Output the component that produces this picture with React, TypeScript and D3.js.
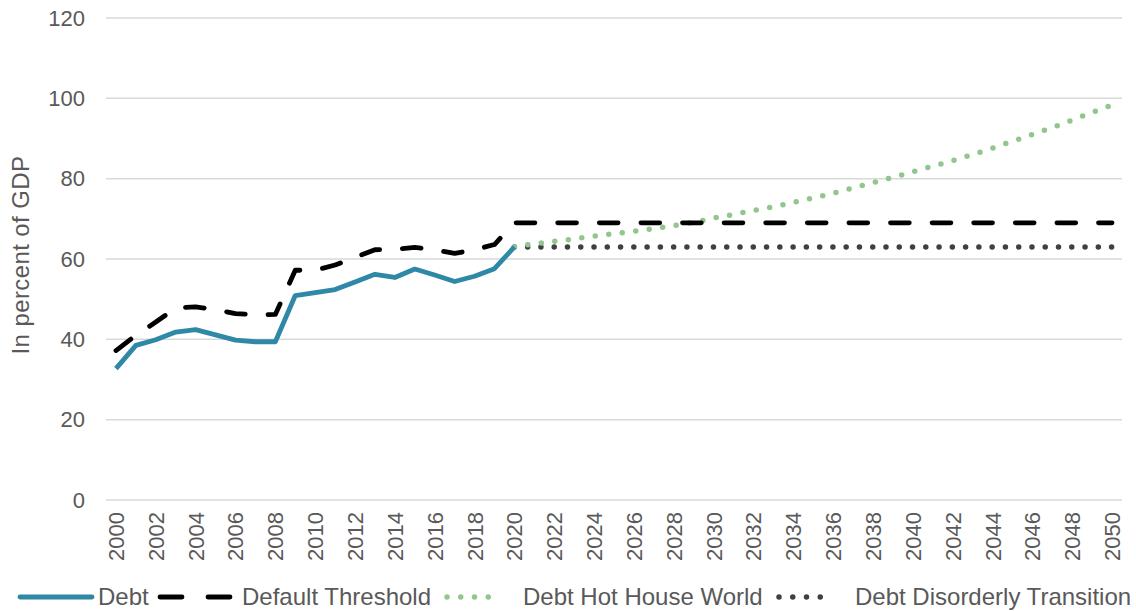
import React from 'react';
import * as d3 from 'd3';

// Years on the category axis
const years = d3.range(2000, 2051);
const tickYears = years.filter(y => y % 2 === 0);
const yTicks = [0, 20, 40, 60, 80, 100, 120];

// Debt, 2000-2020
const debt = [32.7, 38.5, 39.9, 41.8, 42.4, 41.1, 39.8, 39.4, 39.4, 50.9,
  51.6, 52.4, 54.3, 56.2, 55.4, 57.5, 56.0, 54.4, 55.7, 57.6, 63.0];

// Default threshold, 2000-2019, then flat at 69 from 2020 to 2050
const thresholdHist = [37.2, 41.0, 44.3, 47.8, 48.1, 47.4, 46.4, 46.1, 46.2, 57.2,
  57.2, 58.5, 60.4, 62.3, 62.4, 62.9, 62.3, 61.4, 62.3, 63.6];
const thresholdProj = 69;

// Hot House World projection, 2020-2050
const hotHouse = [63.0, 63.8, 64.4, 65.0, 65.7, 66.3, 66.9, 67.6, 68.3, 69.1,
  70.2, 71.1, 72.1, 73.0, 74.1, 75.2, 76.4, 77.7, 79.0, 80.3,
  81.7, 83.1, 84.5, 86.0, 87.6, 89.3, 91.0, 92.7, 94.6, 96.5, 98.3];

// Disorderly Transition projection, 2020-2050
const disorderly = years.filter(y => y >= 2020).map(() => 63);

const W = 1136;
const H = 611;
const FONT = 'Liberation Sans, Arial, sans-serif';
const TEXT = '#595959';
const BLUE = '#2e88a6';
const GREEN = '#92c68e';
const DARK = '#404040';

type Pt = [number, number];

const App = () => {
  const x = d3.scalePoint<number>().domain(years).range([106, 1122]).padding(0.5);
  const y = d3.scaleLinear().domain([0, 120]).range([500, 18]);

  const line = d3.line<Pt>().x(d => x(d[0]) as number).y(d => y(d[1]));

  const debtPts: Pt[] = debt.map((v, i) => [2000 + i, v]);
  const thrPts: Pt[] = [
    ...thresholdHist.map((v, i) => [2000 + i, v] as Pt),
    ...years.filter(yr => yr >= 2020).map(yr => [yr, thresholdProj] as Pt),
  ];
  const hotPts: Pt[] = hotHouse.map((v, i) => [2020 + i, v]);
  const disPts: Pt[] = disorderly.map((v, i) => [2020 + i, v]);

  // dotted spacing so the last dot lands on 2050
  const disLen = (x(2050) as number) - (x(2020) as number);
  const disGap = disLen / 45;

  const legendY = 597;

  return (
    <svg width={W} height={H} style={{ position: 'absolute', left: 0, top: 0 }} fontFamily={FONT}>
      <rect width={W} height={H} fill="#fff" />

      {/* gridlines */}
      {yTicks.map(t => (
        <line key={t} x1={106} x2={1122} y1={y(t)} y2={y(t)} stroke="#d9d9d9" strokeWidth={1.5} />
      ))}

      {/* y tick labels */}
      {yTicks.map(t => (
        <text key={t} x={85} y={y(t)} dy="0.35em" textAnchor="end" fontSize={22} fill={TEXT}>{t}</text>
      ))}

      {/* y axis title */}
      <text transform="translate(29,255) rotate(-90)" textAnchor="middle" fontSize={24}
        letterSpacing={0.4} fill={TEXT}>
        In percent of GDP
      </text>

      {/* x tick labels */}
      {tickYears.map(t => (
        <text key={t} transform={`translate(${(x(t) as number) + 8},512) rotate(-90)`} textAnchor="end"
          fontSize={22} fill={TEXT}>{t}</text>
      ))}

      {/* series */}
      <path d={line(disPts) ?? ''} fill="none" stroke={DARK} strokeWidth={5.5}
        strokeLinecap="round" strokeDasharray={`0 ${disGap - 0.01}`} />
      <path d={line(hotPts) ?? ''} fill="none" stroke={GREEN} strokeWidth={5.5}
        strokeLinecap="round" strokeDasharray="0 13.6" />
      <path d={line(thrPts) ?? ''} fill="none" stroke="#000" strokeWidth={4.8}
        strokeLinecap="round" strokeLinejoin="round" strokeDasharray="18.8 22.8" />
      <path d={line(debtPts) ?? ''} fill="none" stroke={BLUE} strokeWidth={4.8}
        strokeLinejoin="round" />

      {/* legend */}
      <g fontSize={24} fill={TEXT}>
        <line x1={20} x2={92} y1={legendY} y2={legendY} stroke={BLUE} strokeWidth={4.8} strokeLinecap="round" />
        <text x={98} y={legendY} dy="0.35em">Debt</text>

        <line x1={160} x2={230} y1={legendY} y2={legendY} stroke="#000" strokeWidth={4.8}
          strokeLinecap="round" strokeDasharray="22 26" />
        <text x={242} y={legendY} dy="0.35em">Default Threshold</text>

        <line x1={447} x2={502} y1={legendY} y2={legendY} stroke={GREEN} strokeWidth={5.5}
          strokeLinecap="round" strokeDasharray="0 13.75" />
        <text x={523} y={legendY} dy="0.35em">Debt Hot House World</text>

        <line x1={779} x2={834} y1={legendY} y2={legendY} stroke={DARK} strokeWidth={5.5}
          strokeLinecap="round" strokeDasharray="0 13.75" />
        <text x={855} y={legendY} dy="0.35em">Debt Disorderly Transition</text>
      </g>
    </svg>
  );
};

export default App;
